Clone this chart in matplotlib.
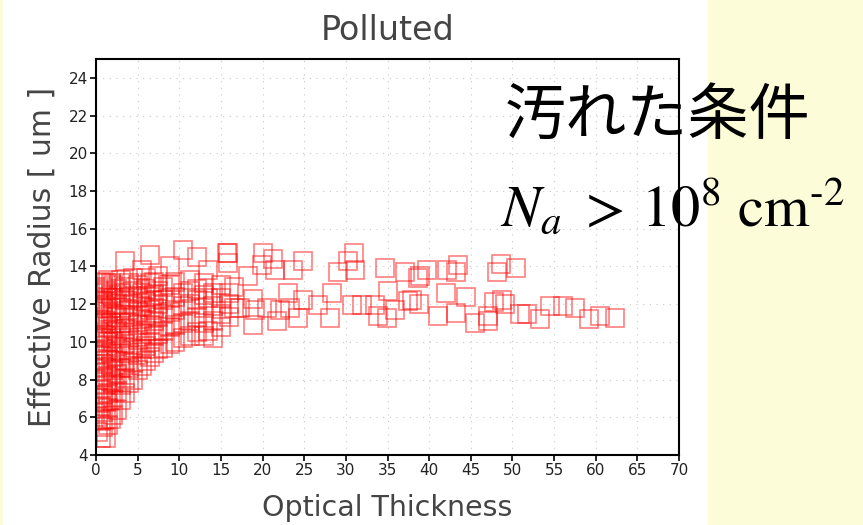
import numpy as np
import matplotlib.pyplot as plt
from matplotlib.patches import Rectangle

# dense part, read column by column: optical thickness -> radii
col_tau = [0.3, 0.6, 0.9, 1.2, 1.5, 1.8, 2.1, 2.5, 3.0, 3.5, 4.0, 4.5, 5.0, 5.5,
           6.0, 6.5, 7.0, 7.5, 8.0, 8.9, 9.5, 10.4, 11.3, 12.1, 13.0, 13.4, 14.0,
           15.0, 16.0, 16.6]
col_reff = [
    [5.2, 6.0, 7.0, 8.0, 9.0, 9.8, 10.5, 11.2, 12.0, 12.8],
    [4.9, 5.8, 6.6, 7.5, 8.4, 9.3, 10.2, 11.0, 11.8, 12.6, 13.2],
    [5.5, 6.3, 7.2, 8.1, 8.8, 9.6, 10.4, 11.3, 12.1, 12.9],
    [4.9, 5.9, 6.8, 7.7, 8.6, 9.5, 10.3, 11.1, 11.9, 12.7, 13.1],
    [5.6, 6.5, 7.3, 8.2, 9.1, 10.0, 10.8, 11.6, 12.4, 13.3],
    [5.9, 6.9, 7.9, 8.7, 9.4, 10.2, 11.0, 11.8, 12.5, 13.1],
    [6.1, 7.0, 7.8, 8.5, 9.2, 10.0, 10.7, 11.5, 12.3, 13.0],
    [6.4, 7.4, 8.3, 9.0, 9.8, 10.6, 11.3, 12.0, 12.8],
    [6.9, 7.7, 8.6, 9.5, 10.3, 11.0, 11.8, 12.6, 13.3],
    [7.3, 8.1, 9.0, 9.9, 10.7, 11.4, 12.2, 12.9, 14.3],
    [7.8, 8.6, 9.4, 10.2, 11.0, 11.7, 12.4, 13.1],
    [8.0, 8.9, 9.7, 10.5, 11.3, 12.0, 12.7, 13.4],
    [8.5, 9.3, 10.1, 10.9, 11.6, 12.3, 13.0],
    [8.7, 9.6, 10.4, 11.2, 11.9, 12.6, 13.8],
    [9.0, 9.8, 10.6, 11.4, 12.1, 12.8, 13.4],
    [9.2, 10.0, 10.9, 11.7, 12.4, 13.1, 14.6],
    [9.4, 10.3, 11.1, 11.8, 12.5, 13.2],
    [9.6, 10.4, 11.3, 12.0, 12.7, 13.5],
    [9.7, 10.6, 11.5, 12.2, 12.9],
    [9.9, 10.8, 11.6, 12.3, 13.0, 14.0],
    [10.0, 10.9, 11.7, 12.4, 13.2],
    [10.2, 11.0, 11.9, 12.6, 14.85],
    [10.3, 11.1, 12.0, 12.7, 13.3],
    [10.5, 11.3, 12.2, 12.8, 14.5],
    [10.3, 11.0, 11.8, 12.5, 13.1],
    [10.6, 12.3, 13.8],
    [10.2, 11.1, 11.9, 12.6],
    [10.8, 11.5, 12.3, 13.0],
    [11.3, 12.0, 12.6],
    [11.8, 12.9],
]

# sparse part, read square by square
sparse_tau = [15.7, 15.8, 15.8, 20.0, 21.3, 19.9, 21.5, 23.7, 24.8, 18.2, 29.0,
              31.0, 30.3, 31.1, 34.7, 37.1, 38.7, 18.9, 17.3, 18.9, 19.1, 20.5,
              21.7, 22.1, 23.0, 23.3, 24.3, 24.9, 26.7, 28.3, 28.1, 30.7, 31.9,
              33.5, 33.9, 34.9, 35.1, 35.9, 37.5,
              38.9, 39.7, 42.1, 43.2, 43.5, 48.1, 48.6, 50.4, 37.9, 38.8, 42.0,
              44.4, 41.1, 43.2, 45.5, 47.1, 47.1, 47.8, 48.7, 49.1, 50.9, 51.7,
              53.3, 54.5, 56.1, 57.5, 59.2, 60.5, 62.3]
sparse_reff = [14.7, 14.7, 14.2, 14.7, 14.4, 14.1, 13.8, 13.8, 14.3, 13.5, 13.7,
               14.7, 14.3, 13.8, 13.9, 13.7, 13.4, 12.25, 11.8, 10.9, 11.7, 11.8,
               11.1, 11.7, 12.6, 11.8, 11.25, 12.2, 11.95, 12.6, 11.25, 11.95, 11.95,
               11.95, 11.35, 11.25, 12.7, 11.7, 12.15,
               13.5, 13.8, 13.8, 13.7, 14.1, 13.7, 14.15, 13.9, 12.2, 12.0, 12.6,
               12.4, 11.35, 11.55, 11.0, 11.1, 11.35, 12.1, 12.2, 12.0, 11.5, 11.5,
               11.2, 11.9, 11.9, 11.8, 11.2, 11.35, 11.25]

tau = [t for t, rs in zip(col_tau, col_reff) for _ in rs] + sparse_tau
reff = [r for rs in col_reff for r in rs] + sparse_reff

plt.rcParams['font.family'] = ['DejaVu Sans']
plt.rcParams['mathtext.fontset'] = 'stix'

fig = plt.figure(figsize=(8.63, 5.25), dpi=100)
fig.patch.set_facecolor('white')
fig.patches.append(Rectangle((708 / 863, 0), 155 / 863, 1, transform=fig.transFigure,
                             facecolor='#fcfcd9', edgecolor='none', zorder=0))
fig.patches.append(Rectangle((0, 0), 3 / 863, 1, transform=fig.transFigure,
                             facecolor='#fcfcd9', edgecolor='none', zorder=0))

ax = fig.add_axes([96 / 863, 70 / 525, 583 / 863, 396 / 525])
ax.plot(tau, reff, 's', ms=12.5, mfc='none', mec='red', mew=1.2, alpha=0.5)

ax.set_xlim(0, 70)
ax.set_ylim(4, 25)
ax.set_xticks(np.arange(0, 71, 5))
ax.set_yticks(np.arange(4, 25, 2))
ax.grid(True, color='#c8c8c8', linestyle=(0, (1, 5)), linewidth=0.8)
ax.set_axisbelow(True)
for s in ax.spines.values():
    s.set_linewidth(1.5)
ax.tick_params(direction='out', length=4, width=1.2, labelsize=11, pad=2,
               labelcolor='#222222')

ax.set_title('Polluted', fontsize=24, color='#444444', pad=14)
ax.set_xlabel('Optical Thickness', fontsize=20.5, color='#444444', labelpad=11)
ax.set_ylabel('Effective Radius [ um ]', fontsize=21.5, color='#444444', labelpad=8)

fig.text(505 / 863, 1 - 117 / 525, '汚れた条件', fontsize=44, va='center', ha='left',
         family=['Noto Sans CJK JP', 'DejaVu Sans'])
fig.text(500 / 863, 1 - 226 / 525, r'$N_a\ >\,10^8\ \mathrm{cm}^{\text{-}2}$', fontsize=42,
         va='baseline', ha='left')

fig.savefig('out.png', dpi=100)
